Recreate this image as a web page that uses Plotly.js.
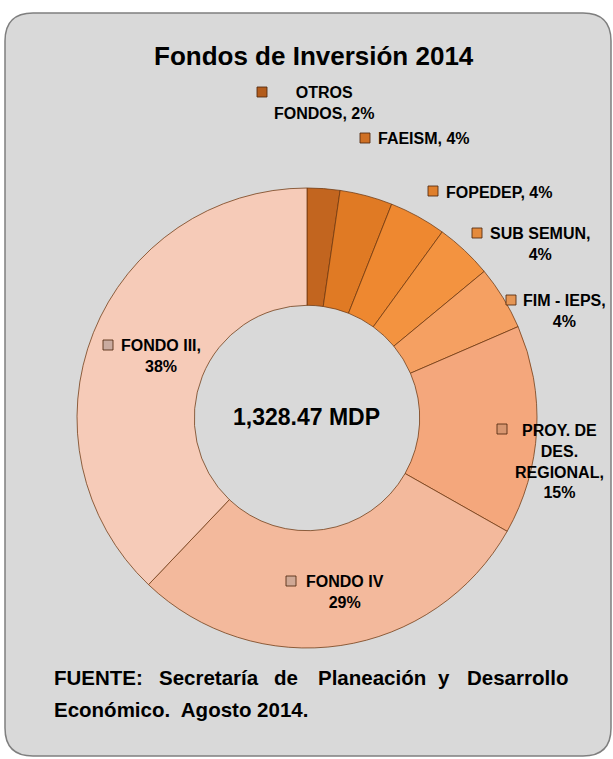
<!DOCTYPE html>
<html>
<head>
<meta charset="utf-8">
<script src="https://cdn.plot.ly/plotly-3.0.1.min.js"></script>
<style>
  html, body { margin: 0; padding: 0; background: #ffffff; }
  #grafica { width: 613px; height: 759px; }
</style>
</head>
<body>
<div id="grafica"></div>
<script>
// Datos del gráfico
const categorias = ['OTROS FONDOS', 'FAEISM', 'FOPEDEP', 'SUB SEMUN', 'FIM - IEPS', 'PROY. DE DES. REGIONAL', 'FONDO IV', 'FONDO III'];
const valores = [2.3, 3.7, 4.0, 4.0, 4.5, 14.7, 28.9, 37.9];
const porcentajes = ['2%', '4%', '4%', '4%', '4%', '15%', '29%', '38%'];
const totalTexto = '1,328.47 MDP';
const titulo = 'Fondos de Inversión 2014';
const fuente1 = ['FUENTE:', 'Secretaría', 'de', 'Planeación', 'y', 'Desarrollo'];
const fuente2 = 'Económico.  Agosto 2014.';

// Colores de cada porción
const colores = ['#c2651f', '#e07a24', '#ee8830', '#f39340', '#f5a062', '#f4a77c', '#f3b99c', '#f6cbb8'];
// Colores de los marcadores (con el sombreado del original)
const coloresMarcador = ['#b35c1c', '#cf7024', '#df7f2c', '#e48a3c', '#e59655', '#d79670', '#cfa895', '#c9aba0'];

// Texto de etiquetas (saltos de línea como en el original)
const textoEtiquetas = [
  'OTROS<br>FONDOS, ' + porcentajes[0],
  'FAEISM, ' + porcentajes[1],
  'FOPEDEP, ' + porcentajes[2],
  'SUB SEMUN,<br>' + porcentajes[3],
  'FIM - IEPS,<br>' + porcentajes[4],
  'PROY. DE<br>DES.<br>REGIONAL,<br>' + porcentajes[5],
  'FONDO IV<br>' + porcentajes[6],
  'FONDO III,<br>' + porcentajes[7]
];

// Posiciones en pixeles de etiquetas y marcadores
const posEtiquetas = [[324, 103], [424, 138], [499, 192], [540, 244], [564, 311], [559, 461], [345, 592], [161, 356]];
const posMarcadores = [[262, 92], [365, 138], [433, 191], [477, 233], [511, 300], [502, 429], [291, 581], [108, 345]];
const posFuente1 = [52, 157, 272, 316, 436, 465];

const W = 613, H = 759;
const FAMILIA = '"Liberation Sans Narrow", "Arial Narrow", "Liberation Sans", Arial, sans-serif';

// Conversión de pixeles a coordenadas de papel
function px(x) { return x / W; }
function py(y) { return 1 - y / H; }

// Centro y radio de la dona
const cx = 307, cy = 418, radio = 230;

const trace = {
  type: 'pie',
  labels: categorias,
  values: valores,
  sort: false,
  direction: 'clockwise',
  rotation: 0,
  hole: 0.49,
  textinfo: 'none',
  hoverinfo: 'none',
  marker: {
    colors: colores,
    line: { color: 'rgba(110,55,15,0.75)', width: 1 }
  },
  domain: {
    x: [px(cx - radio), px(cx + radio)],
    y: [py(cy + radio), py(cy - radio)]
  },
  showlegend: false
};

// Caja redondeada de fondo
const x0 = 5, y0 = 13, x1 = 611, y1 = 756, r = 28;
const caja = 'M ' + px(x0 + r) + ',' + py(y0) +
  ' L ' + px(x1 - r) + ',' + py(y0) +
  ' Q ' + px(x1) + ',' + py(y0) + ' ' + px(x1) + ',' + py(y0 + r) +
  ' L ' + px(x1) + ',' + py(y1 - r) +
  ' Q ' + px(x1) + ',' + py(y1) + ' ' + px(x1 - r) + ',' + py(y1) +
  ' L ' + px(x0 + r) + ',' + py(y1) +
  ' Q ' + px(x0) + ',' + py(y1) + ' ' + px(x0) + ',' + py(y1 - r) +
  ' L ' + px(x0) + ',' + py(y0 + r) +
  ' Q ' + px(x0) + ',' + py(y0) + ' ' + px(x0 + r) + ',' + py(y0) + ' Z';

const shapes = [{
  type: 'path', xref: 'paper', yref: 'paper', path: caja,
  fillcolor: '#d9d9d9', line: { color: '#7f7f7f', width: 1.5 }, layer: 'below'
}];

// Marcadores de leyenda junto a cada etiqueta
posMarcadores.forEach((p, i) => {
  shapes.push({
    type: 'rect', xref: 'paper', yref: 'paper',
    x0: px(p[0] - 5), x1: px(p[0] + 5), y0: py(p[1] + 5), y1: py(p[1] - 5),
    fillcolor: coloresMarcador[i], line: { color: 'rgba(80,40,15,0.85)', width: 1 }, layer: 'above'
  });
});

const annotations = [];

// Título
annotations.push({
  text: titulo, xref: 'paper', yref: 'paper', x: px(314), y: py(56),
  xanchor: 'center', yanchor: 'middle', showarrow: false,
  font: { family: FAMILIA, size: 26, color: '#000000', weight: 'bold' }
});

// Etiquetas de datos
textoEtiquetas.forEach((t, i) => {
  annotations.push({
    text: t, xref: 'paper', yref: 'paper',
    x: px(posEtiquetas[i][0]), y: py(posEtiquetas[i][1]),
    xanchor: 'center', yanchor: 'middle', align: 'center', showarrow: false,
    font: { family: FAMILIA, size: 16, color: '#000000', weight: 'bold' }
  });
});

// Total en el centro
annotations.push({
  text: totalTexto, xref: 'paper', yref: 'paper', x: px(cx), y: py(417),
  xanchor: 'center', yanchor: 'middle', showarrow: false,
  font: { family: FAMILIA, size: 23, color: '#000000', weight: 'bold' }
});

// Fuente (primera línea justificada)
fuente1.forEach((palabra, i) => {
  annotations.push({
    text: palabra, xref: 'paper', yref: 'paper', x: px(posFuente1[i]), y: py(677),
    xanchor: 'left', yanchor: 'middle', showarrow: false,
    font: { family: FAMILIA, size: 20.5, color: '#000000', weight: 'bold' }
  });
});
annotations.push({
  text: fuente2.replace(/  /g, '\u00a0 '), xref: 'paper', yref: 'paper', x: px(52), y: py(709),
  xanchor: 'left', yanchor: 'middle', showarrow: false,
  font: { family: FAMILIA, size: 20.5, color: '#000000', weight: 'bold' }
});

const layout = {
  width: W,
  height: H,
  margin: { l: 0, r: 0, t: 0, b: 0, pad: 0 },
  paper_bgcolor: '#ffffff',
  plot_bgcolor: '#ffffff',
  shapes: shapes,
  annotations: annotations
};

Plotly.newPlot('grafica', [trace], layout, { displayModeBar: false, staticPlot: true });
</script>
</body>
</html>
